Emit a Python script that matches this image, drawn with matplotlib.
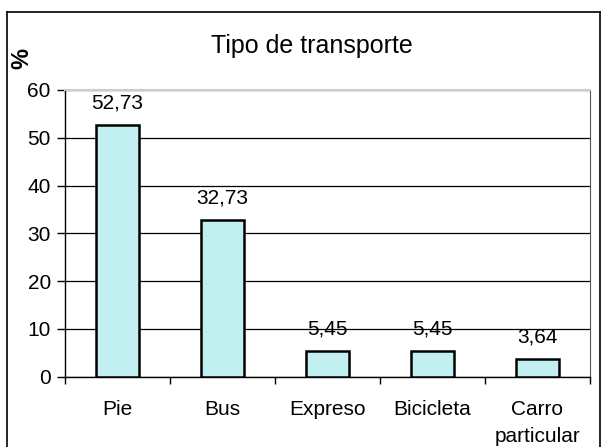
import matplotlib
matplotlib.use("Agg")
import matplotlib.pyplot as plt
from matplotlib.lines import Line2D

categories = ["Pie", "Bus", "Expreso", "Bicicleta", "Carro\nparticular"]
values = [52.73, 32.73, 5.45, 5.45, 3.64]
value_labels = ["52,73", "32,73", "5,45", "5,45", "3,64"]
yticks = [0, 10, 20, 30, 40, 50, 60]

plt.rcParams['font.family'] = ['Liberation Sans', 'DejaVu Sans']

fig = plt.figure(figsize=(6.05, 4.47), dpi=100)
ax = fig.add_axes([0.107, 0.157, 0.868, 0.642])

x = list(range(len(categories)))
ax.bar(x, values, width=0.41, color='#c2eff0', edgecolor='black', linewidth=1.8, zorder=3)
for xi, v, lab in zip(x, values, value_labels):
    ax.text(xi, v + 2.6, lab, ha='center', va='bottom', fontsize=15, zorder=4)

ax.set_xlim(-0.5, len(categories) - 0.5)
ax.set_ylim(0, 60)
ax.set_yticks(yticks)
ax.set_yticklabels([str(t) for t in yticks], fontsize=15)
ax.yaxis.grid(True, color='black', linewidth=0.9)
ax.set_axisbelow(True)

ax.set_xticks(x)
ax.set_xticklabels(categories, fontsize=15, linespacing=1.5)
ax.tick_params(axis='x', length=0, pad=17)
ax.set_xticks([i - 0.5 for i in range(len(categories) + 1)], minor=True)
ax.tick_params(axis='x', which='minor', length=5, width=1)
ax.tick_params(axis='y', length=6, width=1, pad=4)

ax.spines['top'].set_color('#cccccc')
ax.spines['top'].set_linewidth(1.5)
ax.spines['right'].set_color('#555555')
ax.spines['left'].set_linewidth(1)
ax.spines['bottom'].set_linewidth(1)

fig.text(0.515, 0.898, "Tipo de transporte", ha='center', va='center', fontsize=18)
fig.text(0.036, 0.87, "%", ha='center', va='center', fontsize=17, rotation=90, fontweight='bold')

x0, x1, yt = 0.012, 0.992, 0.973
fig.add_artist(Line2D([x0, x0], [-0.01, yt], color='black', linewidth=1.2, transform=fig.transFigure))
fig.add_artist(Line2D([x0, x1], [yt, yt], color='black', linewidth=1.2, transform=fig.transFigure))
fig.add_artist(Line2D([x1, x1], [-0.01, yt], color='black', linewidth=1.2, transform=fig.transFigure))

fig.savefig("out.png", dpi=100)
